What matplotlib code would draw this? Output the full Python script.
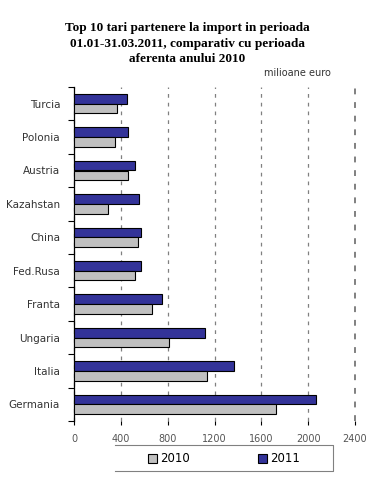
import matplotlib
matplotlib.use("Agg")
import matplotlib.pyplot as plt
from matplotlib.lines import Line2D
import numpy as np

# date (milioane euro)
tari = ["Turcia", "Polonia", "Austria", "Kazahstan", "China",
        "Fed.Rusa", "Franta", "Ungaria", "Italia", "Germania"]
val_2010 = [366, 354, 457, 294, 543, 520, 666, 811, 1140, 1728]
val_2011 = [451, 460, 520, 551, 569, 569, 751, 1123, 1363, 2071]
x_ticks = [0, 400, 800, 1200, 1600, 2000, 2400]

fig = plt.figure(figsize=(3.75, 4.78), dpi=100)
ax = fig.add_axes([74 / 375, 1 - 421 / 478, 281 / 375, 334 / 478])

y = np.arange(len(tari))
h = 0.29
ax.barh(y - h / 2, val_2011, height=h, color="#333399", edgecolor="black",
        linewidth=0.8, label="2011", zorder=3)
ax.barh(y + h / 2, val_2010, height=h, color="#c0c0c0", edgecolor="black",
        linewidth=0.8, label="2010", zorder=3)

ax.set_ylim(len(tari) - 0.5, -0.5)
ax.set_xlim(0, 2400)
ax.set_yticks(y)
ax.set_yticklabels(tari, fontsize=7.5, color="#333333")
ax.set_yticks(np.arange(-0.5, len(tari)), minor=True)
ax.tick_params(axis="y", which="major", length=0, pad=10)
ax.tick_params(axis="y", which="minor", length=4, width=0.8, direction="out")
ax.set_xticks(x_ticks)
ax.set_xticklabels([str(v) for v in x_ticks], fontsize=7, color="#555555")
ax.tick_params(axis="x", length=3, width=0.8, color="black", pad=6)

for s in ["top", "right", "bottom"]:
    ax.spines[s].set_visible(False)
ax.spines["left"].set_linewidth(0.9)
ax.xaxis.grid(True, linestyle=(0, (3, 4)), color="#808080", linewidth=0.9, zorder=0)
for gl in ax.get_xgridlines():
    gl.set_clip_on(False)
ax.get_xgridlines()[-1].set_linewidth(1.4)

fig.text(0.5, 1 - 43.5 / 478,
         "Top 10 tari partenere la import in perioada\n"
         "01.01-31.03.2011, comparativ cu perioada\n"
         "aferenta anului 2010",
         ha="center", va="center", fontsize=9.5, fontweight="bold",
         family="Liberation Serif", linespacing=1.4)
fig.text(297 / 375, 1 - 73 / 478, "milioane euro", ha="center", va="center",
         fontsize=7, color="#333333")

# caseta legendei (fara latura stanga, ca in original)
x0, x1 = 115 / 375, 333 / 375
y0, y1 = 1 - 471 / 478, 1 - 445 / 478
fig.add_artist(Line2D([x0, x1, x1, x0], [y1, y1, y0, y0],
                      transform=fig.transFigure, color="#808080", linewidth=0.8))
handles, labels = ax.get_legend_handles_labels()
leg = fig.legend(handles[::-1], labels[::-1], loc="center",
                 bbox_to_anchor=(224 / 375, 1 - 459 / 478), ncol=2,
                 fontsize=8.5, frameon=False, handlelength=0.8,
                 handleheight=0.8, handletextpad=0.3, columnspacing=5.7,
                 borderpad=0, borderaxespad=0)

fig.savefig("out.png", dpi=100)
